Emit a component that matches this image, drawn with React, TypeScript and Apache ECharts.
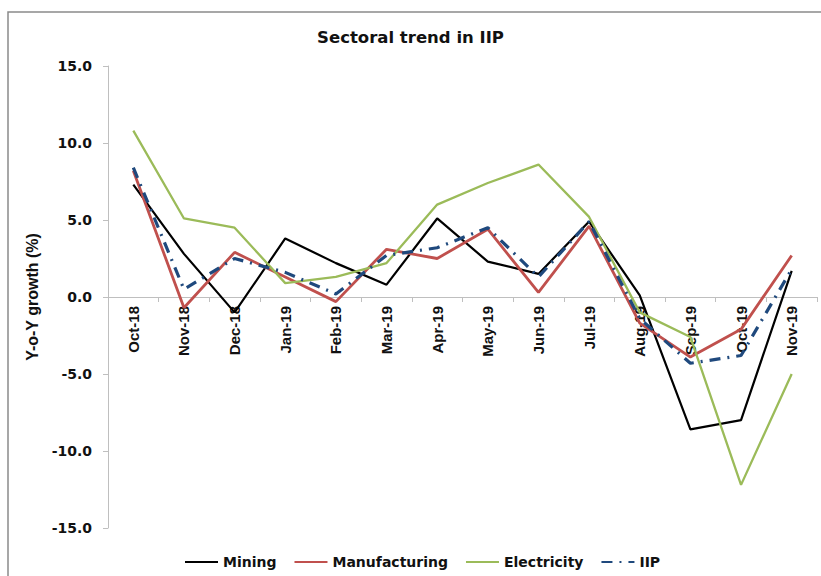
import React, { useEffect, useRef } from "react";
import * as echarts from "echarts";

const categories = ["Oct-18", "Nov-18", "Dec-18", "Jan-19", "Feb-19", "Mar-19", "Apr-19", "May-19", "Jun-19", "Jul-19", "Aug-19", "Sep-19", "Oct-19", "Nov-19"];
const mining = [7.3, 2.8, -1.0, 3.8, 2.2, 0.8, 5.1, 2.3, 1.5, 4.9, 0.1, -8.6, -8.0, 1.7];
const manufacturing = [8.2, -0.7, 2.9, 1.3, -0.3, 3.1, 2.5, 4.4, 0.3, 4.6, -1.7, -3.9, -2.1, 2.7];
const electricity = [10.8, 5.1, 4.5, 0.9, 1.3, 2.2, 6.0, 7.4, 8.6, 5.2, -1.0, -2.6, -12.2, -5.0];
const iip = [8.4, 0.5, 2.5, 1.6, 0.2, 2.7, 3.2, 4.5, 1.3, 4.9, -1.4, -4.3, -3.8, 1.8];
const yTicks = { min: -15, max: 15, interval: 5 };

const GRID = { left: 108, right: 4, top: 66, bottom: 48 };
const H = 576;

export default function App() {
  const ref = useRef<HTMLDivElement>(null);
  useEffect(() => {
    if (!ref.current) return;
    const chart = echarts.init(ref.current, undefined, { renderer: "svg" });
    const bold = "DejaVu Sans";
    chart.setOption({
      animation: false,
      backgroundColor: "#ffffff",
      title: {
        text: "Sectoral trend in IIP",
        left: "center",
        top: 24,
        textStyle: { fontFamily: bold, fontWeight: "bold", fontSize: 16.5, color: "#111" },
      },
      graphic: [
        {
          type: "rect",
          shape: { x: 8, y: 12, width: 900, height: 700 },
          style: { fill: "none", stroke: "#8a8a8a", lineWidth: 1.5 },
          silent: true,
        },
      ],
      grid: { ...GRID, containLabel: false, outerBoundsMode: "none" },
      legend: {
        top: 550,
        left: 179,
        itemWidth: 33,
        itemHeight: 14,
        itemGap: 17,
        itemStyle: { opacity: 0 },
        textStyle: { fontFamily: bold, fontWeight: "bold", fontSize: 14, color: "#111" },
        data: ["Mining", "Manufacturing", "Electricity", "IIP"],
      },
      xAxis: {
        type: "category",
        data: categories,
        boundaryGap: true,
        axisLine: { onZero: false, lineStyle: { color: "#bfbfbf", width: 1 } },
        axisTick: { show: true, length: 5, lineStyle: { color: "#bfbfbf" } },
        axisLabel: {
          rotate: 90,
          margin: 9,
          interval: 0,
          fontFamily: "Liberation Sans",
          fontWeight: "bold",
          fontSize: 15,
          color: "#111",
        },
        splitLine: { show: false },
      },
      yAxis: {
        type: "value",
        min: yTicks.min,
        max: yTicks.max,
        interval: yTicks.interval,
        name: "Y-o-Y growth (%)",
        nameLocation: "middle",
        nameGap: 52,
        nameTextStyle: { fontFamily: "Liberation Sans", fontWeight: "bold", fontSize: 16, color: "#111" },
        axisLine: { show: true, lineStyle: { color: "#bfbfbf", width: 1 } },
        axisTick: { show: true, length: 5, lineStyle: { color: "#bfbfbf" } },
        axisLabel: {
          margin: 16,
          fontFamily: bold,
          fontWeight: "bold",
          fontSize: 14,
          color: "#111",
          formatter: (v: number) => v.toFixed(1),
        },
        splitLine: { show: false },
      },
      series: [
        {
          name: "Mining",
          type: "line",
          data: mining,
          symbol: "none",
          lineStyle: { color: "#000000", width: 2.2 },
          itemStyle: { color: "#000000" },
        },
        {
          name: "Manufacturing",
          type: "line",
          data: manufacturing,
          symbol: "none",
          lineStyle: { color: "#c0504d", width: 2.8 },
          itemStyle: { color: "#c0504d" },
        },
        {
          name: "Electricity",
          type: "line",
          data: electricity,
          symbol: "none",
          lineStyle: { color: "#9bbb59", width: 2.3 },
          itemStyle: { color: "#9bbb59" },
        },
        {
          name: "IIP",
          type: "line",
          data: iip,
          symbol: "none",
          lineStyle: { color: "#1f497d", width: 3.2, type: [11, 7, 2, 7] },
          itemStyle: { color: "#1f497d" },
        },
      ],
    });
    // Move the whole category axis (line, ticks, labels) to the y = 0 position
    const y0 = chart.convertToPixel({ yAxisIndex: 0 }, 0) as number;
    const bottomY = H - GRID.bottom;
    chart.setOption({ xAxis: { offset: -(bottomY - y0) } });
    return () => chart.dispose();
  }, []);
  return (
    <div
      ref={ref}
      style={{ position: "absolute", left: 0, top: 0, width: 821, height: H }}
    />
  );
}
